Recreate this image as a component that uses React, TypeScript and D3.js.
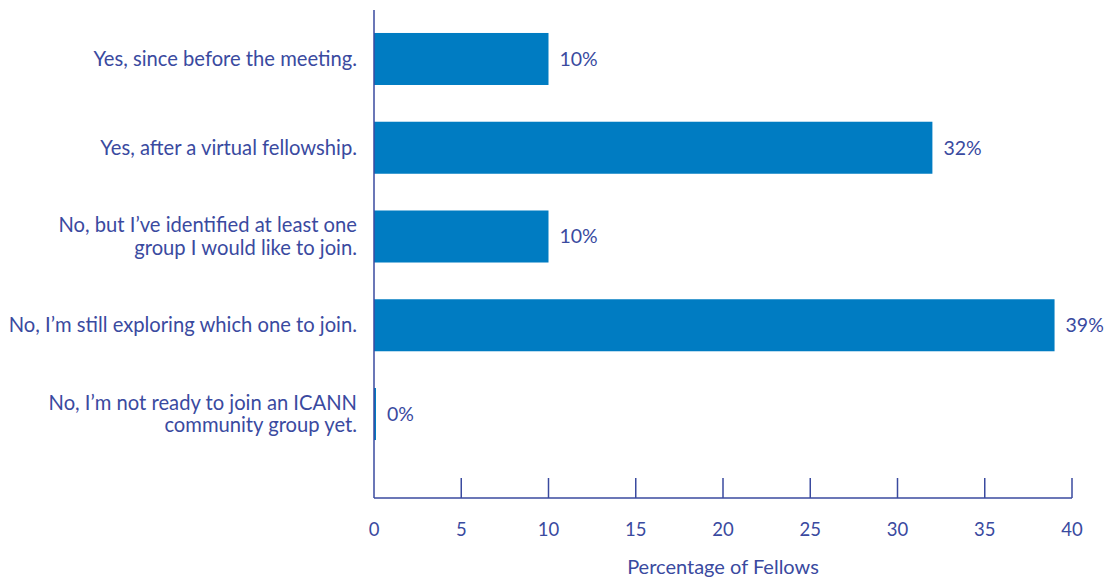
import React from "react";
import * as d3 from "d3";

const categories: string[][] = [
  ["Yes, since before the meeting."],
  ["Yes, after a virtual fellowship."],
  ["No, but I’ve identified at least one", "group I would like to join."],
  ["No, I’m still exploring which one to join."],
  ["No, I’m not ready to join an ICANN", "community group yet."],
];
const values: number[] = [10, 32, 10, 39, 0];
const valueLabels: string[] = ["10%", "32%", "10%", "39%", "0%"];
const xTicks: number[] = [0, 5, 10, 15, 20, 25, 30, 35, 40];
const xTitle = "Percentage of Fellows";

const W = 1107;
const H = 578;
const TEXT = "#3a4a9f";
const BAR = "#007cc2";
const FONT = "Lato, 'Noto Sans', sans-serif";

export default function App() {
  const x = d3.scaleLinear().domain([0, 40]).range([374, 1072]);
  const keys = categories.map((_, i) => String(i));
  const y = d3
    .scaleBand<string>()
    .domain(keys)
    .range([14.6, 458.4])
    .paddingInner(0.414)
    .paddingOuter(0.207);
  const axisY = 498;
  const axisTop = 10;

  return (
    <svg
      width={W}
      height={H}
      style={{ position: "absolute", left: 0, top: 0, background: "#fff" }}
      fontFamily={FONT}
    >
      {values.map((v, i) => {
        const w = Math.max(x(v) - x(0), 2);
        return (
          <rect
            key={"b" + i}
            x={x(0)}
            y={y(keys[i])!}
            width={w}
            height={y.bandwidth()}
            fill={BAR}
          />
        );
      })}
      {values.map((v, i) => (
        <text
          key={"v" + i}
          x={Math.max(x(v), x(0) + 2) + 11}
          y={y(keys[i])! + y.bandwidth() / 2}
          dy="0.35em"
          fontSize={19.5}
          fill={TEXT}
        >
          {valueLabels[i]}
        </text>
      ))}
      {categories.map((lines, i) => {
        const cy = y(keys[i])! + y.bandwidth() / 2;
        const lh = 22.5;
        const start = cy - ((lines.length - 1) * lh) / 2;
        return (
          <text key={"c" + i} x={357} textAnchor="end" fontSize={20.2} fill={TEXT}>
            {lines.map((l, j) => (
              <tspan key={j} x={357} y={start + j * lh} dy="0.35em">
                {l}
              </tspan>
            ))}
          </text>
        );
      })}
      <line x1={x(0)} x2={x(0)} y1={axisTop} y2={axisY} stroke={TEXT} strokeWidth={1.5} />
      <line x1={x(0)} x2={x(40)} y1={axisY} y2={axisY} stroke={TEXT} strokeWidth={1.5} />
      {xTicks.map((t) => (
        <g key={"t" + t}>
          {t !== 0 && (
            <line x1={x(t)} x2={x(t)} y1={axisY - 20} y2={axisY} stroke={TEXT} strokeWidth={1.5} />
          )}
          <text x={x(t)} y={530} dy="0.35em" textAnchor="middle" fontSize={18.5} fill={TEXT}>
            {t}
          </text>
        </g>
      ))}
      <text x={(x(0) + x(40)) / 2} y={567} dy="0.35em" textAnchor="middle" fontSize={20} fill={TEXT}>
        {xTitle}
      </text>
    </svg>
  );
}
